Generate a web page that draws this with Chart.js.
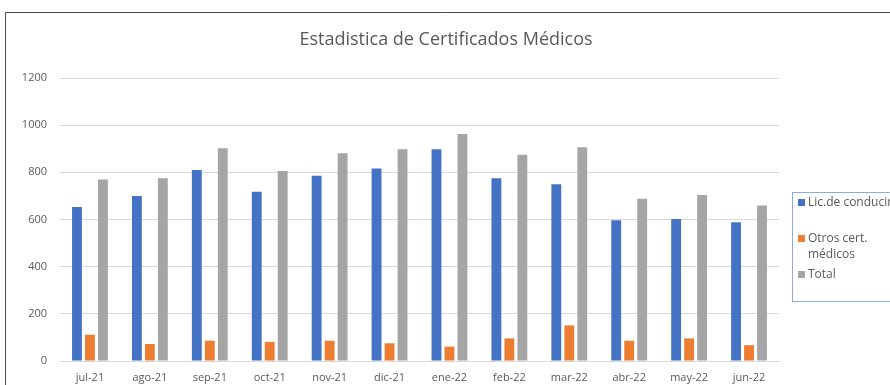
<!DOCTYPE html>
<html>
<head>
<meta charset="utf-8">
<script src="https://cdn.jsdelivr.net/npm/chart.js@4/dist/chart.umd.min.js"></script>
<style>
  html, body { margin: 0; padding: 0; background: #fff; overflow: hidden; }
  #chart { display: block; }
</style>
</head>
<body>
<canvas id="chart" width="890" height="385"></canvas>
<script>
const months = ["jul-21", "ago-21", "sep-21", "oct-21", "nov-21", "dic-21",
  "ene-22", "feb-22", "mar-22", "abr-22", "may-22", "jun-22"];
const licencias = [653, 700, 810, 718, 785, 816, 898, 775, 749, 597, 602, 588];
const otros = [111, 72, 86, 81, 86, 75, 61, 96, 151, 86, 96, 67];
const totales = [770, 775, 902, 806, 881, 898, 963, 875, 906, 688, 704, 659];
const yTicks = [0, 200, 400, 600, 800, 1000, 1200];
const legendLines = [["Lic.de conducir"], ["Otros cert.", "médicos"], ["Total"]];
const chartTitle = "Estadistica de Certificados Médicos";

const colors = { blue: "#4472c4", orange: "#ed7d31", gray: "#a5a5a5", text: "#595959", grid: "#d9d9d9" };
const font = '"Open Sans", "Noto Sans", sans-serif';

// outer frame, title centred on the whole box, and the boxed legend on the right
const frameAndLegend = {
  id: "frameAndLegend",
  beforeDraw(chart) {
    const { ctx } = chart;
    ctx.save();
    ctx.fillStyle = "#fff";
    ctx.fillRect(0, 0, chart.width, chart.height);
    ctx.strokeStyle = "#4d4d4d";
    ctx.lineWidth = 1;
    ctx.beginPath();
    ctx.moveTo(5.5, chart.height);
    ctx.lineTo(5.5, 12.5);
    ctx.lineTo(chart.width, 12.5);
    ctx.stroke();
    ctx.font = "18px " + font;
    ctx.fillStyle = colors.text;
    ctx.textAlign = "center";
    ctx.textBaseline = "middle";
    ctx.fillText(chartTitle, 446, 40);
    ctx.restore();
  },
  afterDraw(chart) {
    const { ctx } = chart;
    ctx.save();
    ctx.strokeStyle = "#8faadc";
    ctx.lineWidth = 1;
    ctx.strokeRect(792.5, 192.5, 110, 109);
    ctx.font = "12px " + font;
    ctx.textBaseline = "middle";
    chart.data.datasets.forEach((ds, i) => {
      const y = 203 + i * 36;
      ctx.fillStyle = ds.backgroundColor;
      ctx.fillRect(798, y - 4, 7, 7);
      ctx.fillStyle = colors.text;
      legendLines[i].forEach((line, j) => ctx.fillText(line, 808, y + j * 16));
    });
    ctx.restore();
  },
};

new Chart(document.getElementById("chart"), {
  type: "bar",
  data: {
    labels: months,
    datasets: [
      { label: legendLines[0].join(" "), data: licencias, backgroundColor: colors.blue },
      { label: legendLines[1].join(" "), data: otros, backgroundColor: colors.orange },
      { label: legendLines[2].join(" "), data: totales, backgroundColor: colors.gray },
    ],
  },
  options: {
    responsive: false,
    animation: false,
    layout: { padding: { left: 0, right: 111, top: 78, bottom: 0 } },
    datasets: { bar: { categoryPercentage: 0.65, barPercentage: 0.76 } },
    plugins: {
      legend: { display: false },
      tooltip: { enabled: false },
      title: { display: false },
    },
    scales: {
      x: {
        grid: { display: false, drawTicks: false },
        border: { display: true, color: colors.grid },
        ticks: { color: colors.text, font: { family: font, size: 11 }, padding: 10, maxRotation: 0 },
        afterFit: (scale) => { scale.height = 24; },
      },
      y: {
        min: 0,
        max: 1200,
        afterBuildTicks: (scale) => { scale.ticks = yTicks.map((v) => ({ value: v })); },
        grid: { color: colors.grid, drawTicks: false },
        border: { display: false },
        ticks: {
          color: colors.text,
          font: { family: font, size: 11 },
          padding: 13,
          callback: (value) => String(value),
        },
        afterFit: (scale) => { scale.width = 60; },
      },
    },
  },
  plugins: [frameAndLegend],
});
</script>
</body>
</html>
